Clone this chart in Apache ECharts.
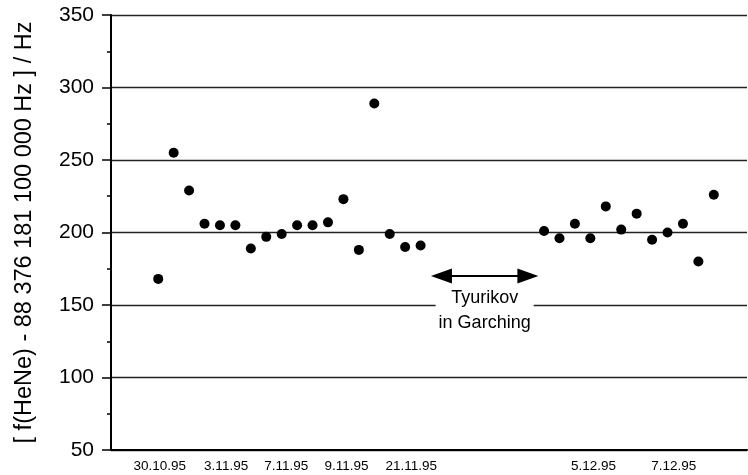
<!DOCTYPE html>
<html>
<head>
<meta charset="utf-8">
<script src="https://cdn.jsdelivr.net/npm/echarts@6/dist/echarts.min.js"></script>
<style>html,body{margin:0;padding:0;background:#fff}#c{width:748px;height:475px}</style>
</head>
<body>
<div id="c"></div>
<script>
// measurement index (position along x) and values in Hz
const xIndex = [0,1,2,3,4,5,6,7,8,9,10,11,12,13,14,15,16,17,
                25,26,27,28,29,30,31,32,33,34,35,36];
const values = [168,255,229,206,205,205,189,197,199,205,205,207,223,188,289,199,190,191,
                201,196,206,196,218,202,213,195,200,206,180,226];
const dateLabels = ['30.10.95','3.11.95','7.11.95','9.11.95','21.11.95','5.12.95','7.12.95'];
const dateLabelPos = [0.1,4.4,8.3,12.2,16.4,28.2,33.4];
const yTicks = [50,100,150,200,250,300,350];
const arrowFrom = [18.35,170];
const arrowTo = [23.95,170];
const noteText = 'Tyurikov\nin Garching';
const notePos = [21.15,146.5];

const FONT = '"Liberation Sans", Arial, sans-serif';
const chart = echarts.init(document.getElementById('c'), null, {renderer:'canvas'});
const pts = xIndex.map((x,i)=>[x, values[i]]);
chart.setOption({
  animation:false,
  backgroundColor:'#fff',
  grid:{left:111, right:1, top:15, bottom:25, containLabel:false},
  xAxis:{
    type:'value', min:-3.06, max:38.15,
    axisLine:{show:true, onZero:false, lineStyle:{color:'#000', width:2}},
    axisTick:{show:false},
    splitLine:{show:false},
    axisLabel:{
      customValues: dateLabelPos,
      formatter:(v)=>{const k=dateLabelPos.indexOf(v);return k>=0?dateLabels[k]:'';},
      color:'#000', fontFamily:FONT, fontSize:13.5, margin:9,
      showMinLabel:true, showMaxLabel:true
    }
  },
  yAxis:{
    type:'value', min:yTicks[0], max:yTicks[yTicks.length-1], interval:50,
    name:'[ f(HeNe) - 88 376 181 100 000 Hz ] / Hz',
    nameLocation:'middle', nameRotate:90, nameGap:74,
    nameTextStyle:{color:'#000', fontFamily:FONT, fontSize:23.5},
    axisLine:{show:true, onZero:false, lineStyle:{color:'#000', width:2}},
    axisTick:{show:true, inside:false, length:9, lineStyle:{color:'#000', width:1.5}},
    minorTick:{show:true, splitNumber:2, length:4, lineStyle:{color:'#000', width:1.5}},
    splitLine:{show:true, lineStyle:{color:'#222', width:1.4}},
    axisLabel:{color:'#000', fontFamily:FONT, fontSize:21, margin:17}
  },
  series:[{
    type:'scatter',
    data:pts,
    symbol:'circle', symbolSize:10,
    itemStyle:{color:'#000', opacity:1},
    markLine:{
      silent:true, symbol:['path://M0,0 L10,20 L-10,20 Z','path://M0,0 L10,20 L-10,20 Z'],
      symbolSize:[15,21],
      lineStyle:{color:'#000', width:2, type:'solid'},
      label:{show:false},
      data:[[{coord:arrowFrom},{coord:arrowTo}]]
    },
    markPoint:{
      silent:true, symbol:'circle', symbolSize:0,
      label:{show:true, position:'inside', formatter:noteText, color:'#000',
        fontFamily:FONT, fontSize:18, lineHeight:25,
        backgroundColor:'#fff', padding:[0,3]},
      data:[{coord:notePos}]
    }
  }]
});
</script>
</body>
</html>
